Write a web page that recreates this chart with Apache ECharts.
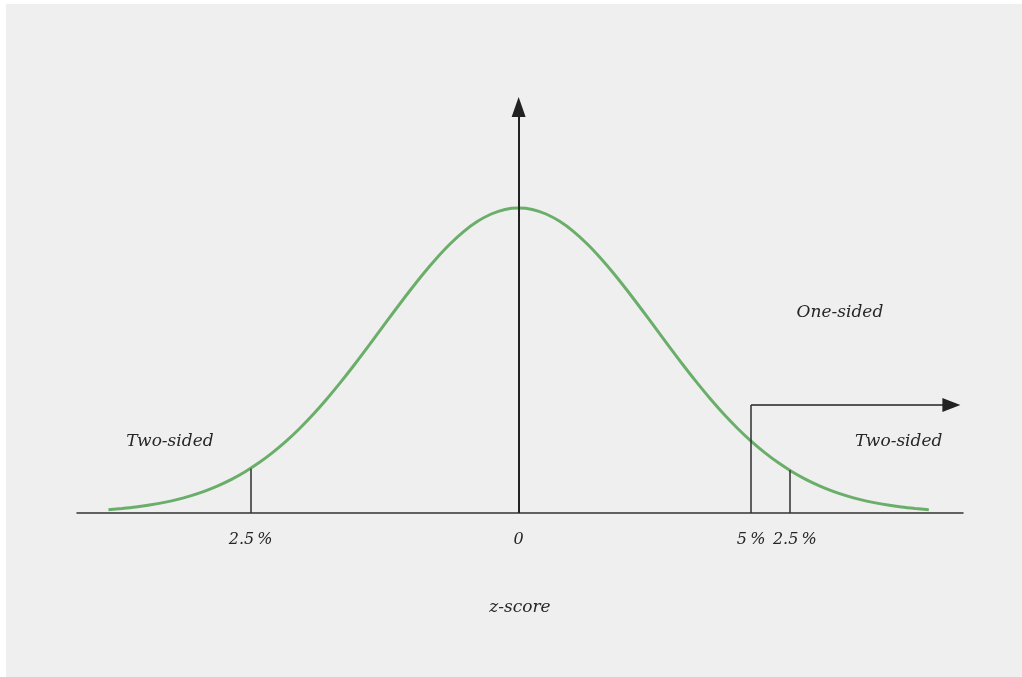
<!DOCTYPE html>
<html>
<head>
<meta charset="utf-8">
<script src="https://cdn.jsdelivr.net/npm/echarts@6/dist/echarts.min.js"></script>
<style>
  html, body { margin: 0; padding: 0; background: #ffffff; }
  #chart { position: absolute; left: 6px; top: 4px; width: 1016px; height: 673px; background: #efefef; }
</style>
</head>
<body>
<div id="chart"></div>
<script>
// Curve (z-score, density)
const curveZ = [-3.0,-2.9,-2.8,-2.7,-2.6,-2.5,-2.4,-2.3,-2.2,-2.1,-2.0,-1.9,-1.8,-1.7,-1.6,-1.5,-1.4,-1.3,-1.2,-1.1,
                -1.0,-0.9,-0.8,-0.7,-0.6,-0.5,-0.4,-0.3,-0.2,-0.1,0,
                0.1,0.2,0.3,0.4,0.5,0.6,0.7,0.8,0.9,1.0,1.1,1.2,1.3,1.4,1.5,1.6,1.7,1.8,1.9,
                2.0,2.1,2.2,2.3,2.4,2.5,2.6,2.7,2.8,2.9,3.0];
const curveY = [0.0044,0.0060,0.0079,0.0104,0.0136,0.0175,0.0224,0.0283,0.0355,0.0440,0.0540,0.0656,0.0790,0.0940,0.1109,0.1295,0.1497,0.1714,0.1942,0.2179,
                0.2420,0.2661,0.2897,0.3123,0.3332,0.3521,0.3683,0.3814,0.3910,0.3970,0.3989,
                0.3970,0.3910,0.3814,0.3683,0.3521,0.3332,0.3123,0.2897,0.2661,0.2420,0.2179,0.1942,0.1714,0.1497,0.1295,0.1109,0.0940,0.0790,0.0656,
                0.0540,0.0440,0.0355,0.0283,0.0224,0.0175,0.0136,0.0104,0.0079,0.0060,0.0044];

// Tick labels on the z axis
const tickZ = [-1.96, 0, 1.70, 2.02];
const tickLabels = ['2.5\u2009%', '0', '5\u2009%', '2.5\u2009%'];

// Two-sided critical lines (from axis to curve)
const critZ = [-1.96, 1.98];
const critH = [0.058, 0.056];

// One-sided bracket: 5% line, its top height, arrow end (arrowhead centre)
const oneSidedZ = 1.70;
const oneSidedTop = 0.1413;
const oneSidedEnd = 3.165;

// Vertical axis: plot top and arrowhead centre
const yAxisTop = 0.544;
const yArrowEnd = 0.531;

// Annotations
const annoText = ['Two-sided', 'Two-sided', 'One-sided'];
const annoZ = [-2.55, 2.78, 2.35];
const annoY = [0.094, 0.094, 0.262];

const xMin = -3.23, xMax = 3.25;

const chart = echarts.init(document.getElementById('chart'));
const font = '"DejaVu Serif", "Liberation Serif", serif';
const textColor = '#262626';

const markLines = [];
markLines.push({ coords: [[0, 0], [0, yArrowEnd]], symbol: ['none', 'triangle'], symbolSize: [14, 20],
  lineStyle: { color: '#222', width: 2, type: 'solid', opacity: 1 } });
critZ.forEach((z, i) => {
  markLines.push({ coords: [[z, 0], [z, critH[i]]], symbol: ['none', 'none'],
    lineStyle: { color: '#2f2f2f', width: 1.5, type: 'solid', opacity: 1 } });
});
markLines.push({ coords: [[oneSidedZ, 0], [oneSidedZ, oneSidedTop]], symbol: ['none', 'none'],
  lineStyle: { color: '#2f2f2f', width: 1.5, type: 'solid', opacity: 1 } });
markLines.push({ coords: [[oneSidedZ, oneSidedTop], [oneSidedEnd, oneSidedTop]], symbol: ['none', 'triangle'], symbolSize: [14, 18],
  lineStyle: { color: '#222', width: 1.5, type: 'solid', opacity: 1 } });

chart.setOption({
  animation: false,
  backgroundColor: '#efefef',
  grid: { left: 71, right: 59, top: 93, bottom: 164 },
  xAxis: {
    type: 'value', min: xMin, max: xMax,
    splitLine: { show: false },
    axisLine: { show: true, onZero: false, lineStyle: { color: '#333', width: 1.5 } },
    axisTick: { show: false },
    axisLabel: {
      show: true, customValues: tickZ, margin: 19,
      formatter: (v) => { const i = tickZ.indexOf(v); return i >= 0 ? tickLabels[i] : ''; },
      fontFamily: font, fontStyle: 'italic', fontSize: 16, color: textColor
    },
    name: 'z-score', nameLocation: 'middle', nameGap: 86,
    nameTextStyle: { fontFamily: font, fontStyle: 'italic', fontSize: 17, color: textColor }
  },
  yAxis: {
    type: 'value', min: 0, max: yAxisTop, show: false
  },
  series: [
    {
      type: 'line', smooth: 0.3, showSymbol: false, silent: true,
      data: curveZ.map((z, i) => [z, curveY[i]]),
      lineStyle: { color: '#6aae6a', width: 3 },
      z: 3,
      markLine: {
        silent: true, animation: false,
        label: { show: false },
        emphasis: { disabled: true },
        data: markLines.map(m => [
          { coord: m.coords[0], symbol: m.symbol[0], lineStyle: m.lineStyle, symbolSize: m.symbolSize },
          { coord: m.coords[1], symbol: m.symbol[1], symbolSize: m.symbolSize }
        ])
      }
    },
    {
      type: 'scatter', silent: true, symbolSize: 0,
      data: annoZ.map((z, i) => ({ value: [z, annoY[i]], name: annoText[i] })),
      label: {
        show: true, position: 'inside', formatter: (p) => p.name,
        fontFamily: font, fontStyle: 'italic', fontSize: 17, color: textColor, opacity: 1
      }
    }
  ]
});
</script>
</body>
</html>
